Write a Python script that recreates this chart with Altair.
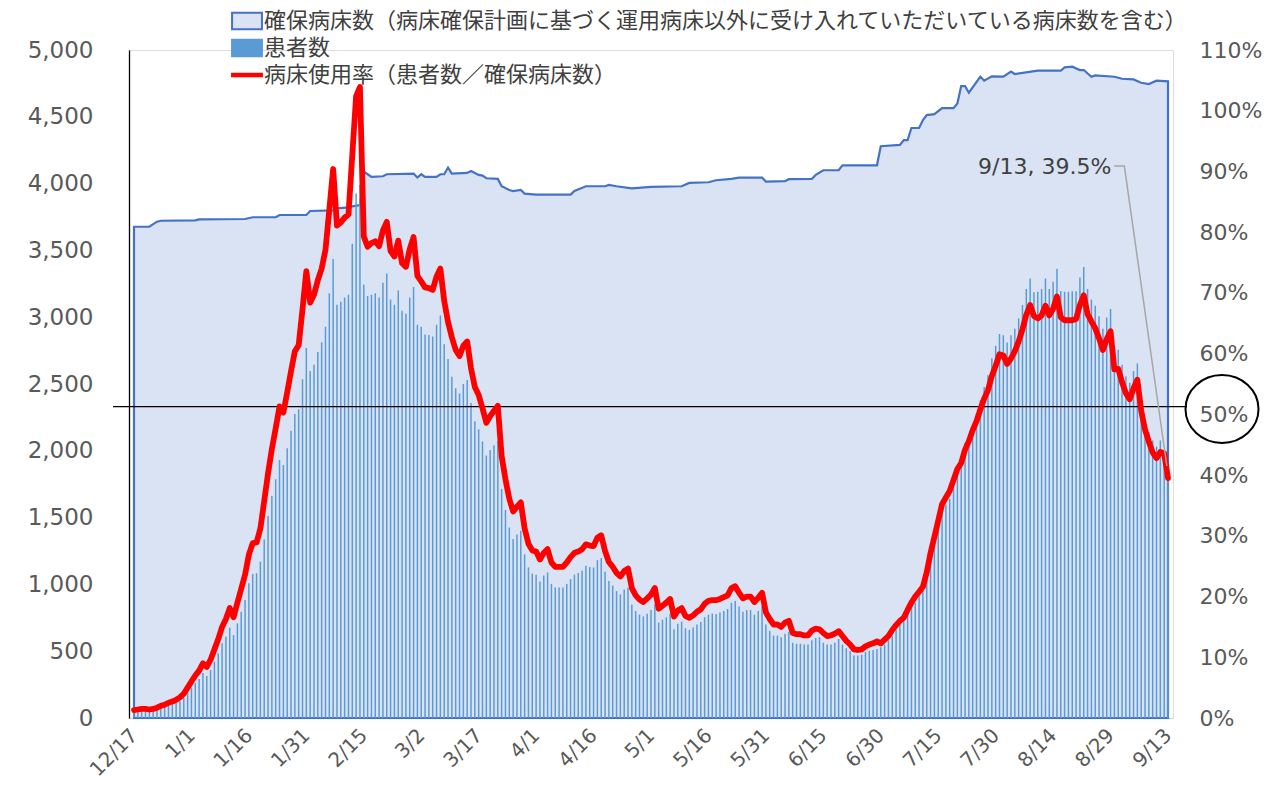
import json
import pandas as pd
import altair as alt

# ---------------- data ----------------
TICK_LABELS = ["12/17", "1/1", "1/16", "1/31", "2/15", "3/2", "3/17", "4/1", "4/16",
               "5/1", "5/16", "5/31", "6/15", "6/30", "7/15", "7/30", "8/14", "8/29", "9/13"]

SERIES = [
    "確保病床数（病床確保計画に基づく運用病床以外に受け入れていただいている病床数を含む）",
    "患者数",
    "病床使用率（患者数／確保病床数）",
]

# patients per day, 12/17 .. 9/13
PATIENTS = [
    48, 52, 55, 55, 52, 56, 62, 74, 82, 92,
    102, 112, 128, 150, 187, 225, 262, 292, 337, 314,
    359, 421, 484, 559, 609, 676, 621, 709, 796, 883,
    1008, 1078, 1083, 1170, 1337, 1512, 1662, 1787, 1931, 1894,
    2019, 2151, 2275, 2311, 2535, 2770, 2597, 2645, 2739, 2812,
    2928, 3179, 3436, 3093, 3116, 3147, 3168, 3549, 3926, 3989,
    3243, 3158, 3168, 3179, 3147, 3258, 3327, 3132, 3093, 3200,
    3049, 3025, 3147, 3226, 2943, 2928, 2871, 2866, 2855, 2943,
    3013, 2797, 2687, 2555, 2468, 2428, 2500, 2530, 2357, 2222,
    2161, 2069, 1965, 2006, 2041, 2074, 1714, 1557, 1426, 1340,
    1374, 1402, 1225, 1127, 1081, 1073, 1021, 1067, 1089, 1004,
    977, 977, 977, 1004, 1040, 1073, 1086, 1102, 1140, 1130,
    1127, 1181, 1197, 1094, 1026, 991, 950, 925, 962, 977,
    850, 801, 774, 760, 781, 808, 850, 714, 735, 754,
    781, 664, 705, 721, 672, 659, 677, 700, 719, 754,
    773, 781, 779, 790, 801, 816, 863, 876, 835, 795,
    808, 808, 773, 801, 835, 700, 653, 617, 617, 604,
    631, 645, 563, 555, 555, 550, 550, 582, 599, 604,
    563, 550, 550, 563, 591, 550, 522, 501, 468, 468,
    474, 495, 504, 509, 517, 530, 550, 582, 617, 659,
    707, 741, 781, 835, 863, 916, 963, 1121, 1257, 1352,
    1448, 1557, 1598, 1639, 1720, 1815, 1883, 2060, 2101, 2161,
    2278, 2379, 2477, 2566, 2692, 2786, 2874, 2865, 2811, 2865,
    2913, 2991, 3092, 3211, 3290, 3186, 3190, 3211, 3290, 3211,
    3265, 3362, 3196, 3190, 3190, 3195, 3195, 3297, 3375, 3211,
    3132, 3086, 3007, 2913, 2998, 3061, 2754, 2757, 2645, 2557,
    2510, 2597, 2654, 2408, 2220, 2141, 2078, 2030, 2078, 2000, 1880,
]

# bed-occupancy rate (%) per day
RATE = [
    1.3, 1.4, 1.5, 1.5, 1.4, 1.5, 1.7, 2.0, 2.2, 2.5,
    2.7, 3.0, 3.4, 4.0, 5.0, 6.0, 7.0, 7.8, 9.0, 8.4,
    9.6, 11.3, 13.0, 15.0, 16.3, 18.1, 16.6, 19.0, 21.3, 23.6,
    26.9, 28.8, 28.9, 31.2, 35.7, 40.3, 44.3, 47.7, 51.3, 50.3,
    53.6, 57.1, 60.4, 61.4, 67.3, 73.6, 68.4, 69.7, 72.1, 74.0,
    77.1, 83.7, 90.4, 81.1, 81.6, 82.4, 82.9, 92.7, 102.4, 103.9,
    79.3, 77.6, 78.2, 78.5, 77.7, 80.3, 81.7, 76.9, 76.0, 78.6,
    74.9, 74.3, 77.2, 79.2, 72.8, 71.9, 70.9, 70.8, 70.5, 72.7,
    74.0, 68.7, 65.2, 62.7, 60.6, 59.6, 61.3, 62.0, 57.6, 54.5,
    53.2, 51.0, 48.6, 49.7, 50.6, 51.4, 43.1, 39.3, 36.1, 34.0,
    34.8, 35.5, 31.2, 28.7, 27.6, 27.4, 26.1, 27.2, 27.8, 25.6,
    24.9, 24.9, 24.9, 25.6, 26.5, 27.2, 27.4, 27.8, 28.6, 28.4,
    28.3, 29.7, 30.1, 27.5, 25.7, 24.9, 23.9, 23.3, 24.2, 24.6,
    21.4, 20.2, 19.5, 19.1, 19.7, 20.3, 21.4, 18.0, 18.5, 19.0,
    19.6, 16.7, 17.7, 18.1, 16.8, 16.5, 16.9, 17.5, 17.9, 18.8,
    19.3, 19.4, 19.4, 19.6, 19.9, 20.2, 21.4, 21.7, 20.6, 19.7,
    20.0, 20.0, 19.1, 19.8, 20.6, 17.4, 16.3, 15.4, 15.4, 15.0,
    15.7, 16.0, 14.0, 13.8, 13.8, 13.6, 13.6, 14.4, 14.7, 14.6,
    14.0, 13.5, 13.6, 13.9, 14.3, 13.5, 12.7, 12.1, 11.3, 11.2,
    11.3, 11.8, 12.1, 12.3, 12.6, 12.3, 12.9, 13.5, 14.5, 15.3,
    16.0, 16.5, 17.8, 19.0, 20.0, 20.8, 21.6, 24.0, 27.2, 29.8,
    32.5, 35.2, 36.3, 37.4, 39.2, 41.0, 42.0, 44.2, 45.6, 47.4,
    48.9, 50.8, 52.6, 54.0, 56.3, 58.0, 59.9, 59.7, 58.3, 59.2,
    60.4, 62.0, 64.0, 66.4, 68.0, 66.2, 65.8, 66.3, 67.9, 66.3,
    67.4, 69.4, 66.0, 65.5, 65.5, 65.5, 65.7, 68.0, 69.6, 66.5,
    65.3, 64.2, 62.5, 60.6, 62.4, 63.7, 57.4, 57.5, 55.3, 53.5,
    52.5, 54.3, 55.7, 50.6, 47.5, 45.5, 43.7, 42.8, 43.8, 43.6, 39.5,
]

# secured beds: days (from 12/17) where the outline changes, and the values there
BED_DAYS = [0, 4, 6, 7, 16, 17, 29, 31, 37, 38, 45, 46, 52, 53, 56, 57, 59, 60, 61, 62,
            65, 66, 73, 74, 75, 76, 79, 80, 81, 82, 83, 87, 88, 90, 91, 92, 95, 96, 98, 99,
            101, 102, 105, 114, 115, 118, 123, 124, 126, 130, 135, 143, 145, 150, 152, 156, 158, 164, 165, 170,
            171, 177, 178, 180, 184, 185, 194, 195, 200, 201, 202, 203, 205, 206, 207, 209, 211, 214, 215, 216,
            217, 218, 221, 222, 224, 227, 229, 230, 236, 242, 243, 245, 247, 248, 250, 251, 256, 258, 261, 263,
            265, 267, 270]
BED_VALUES = [3677, 3677, 3715, 3722, 3725, 3732, 3735, 3748, 3748, 3765, 3765, 3795, 3800, 3815, 3822, 3830, 3840, 4090, 4070, 4050,
              4055, 4070, 4075, 4045, 4070, 4050, 4050, 4070, 4070, 4120, 4075, 4080, 4095, 4065, 4060, 4040, 4035, 3980, 3952, 3944,
              3952, 3925, 3918, 3918, 3945, 3980, 3980, 3990, 3980, 3965, 3975, 3980, 4005, 4010, 4025, 4035, 4045, 4045, 4015, 4018,
              4033, 4035, 4065, 4100, 4100, 4137, 4137, 4280, 4290, 4326, 4326, 4416, 4416, 4476, 4513, 4520, 4565, 4565, 4600, 4730,
              4730, 4680, 4800, 4770, 4803, 4800, 4838, 4820, 4845, 4845, 4870, 4875, 4850, 4850, 4800, 4810, 4800, 4785, 4780, 4755,
              4745, 4770, 4765]

LINE_LEVEL = 2330          # hand-drawn horizontal guide (about the 50% level)
ANNOT_POS = (255.2, 90.7)  # annotation text position (day, %)
LEADER_DAYS = [255.9, 258.6, 269.7]
LEADER_RATES = [90.9, 90.9, 41.5]

assert len(PATIENTS) == len(RATE) == 271
assert len(BED_DAYS) == len(BED_VALUES)

daily = pd.DataFrame({"day": list(range(len(PATIENTS))), "patients": PATIENTS, "rate": RATE})
beds = pd.DataFrame({"day": BED_DAYS, "beds": BED_VALUES})

W, H = 1044, 668
FONT = "DejaVu Sans"
JP = "Noto Sans CJK JP"
GREY = "#595959"

xscale = alt.Scale(domain=[0, 270], nice=False, zero=False)
tick_vals = [i * 15 for i in range(len(TICK_LABELS))]
x_axis = alt.Axis(values=tick_vals,
                  labelExpr=json.dumps(TICK_LABELS) + "[round(datum.value/15)]",
                  labelAngle=-45, labelAlign="right", labelBaseline="middle",
                  labelFontSize=20, labelFont=FONT, labelColor=GREY, labelPadding=14,
                  ticks=False, domainColor="#D0D7E5", domainWidth=1.5, grid=False, title=None)

left_scale = alt.Scale(domain=[0, 5000], nice=False)
left_axis = alt.Axis(values=list(range(0, 5001, 500)), format=",d", labelFontSize=23, labelFont=FONT,
                     labelColor=GREY, labelPadding=36, ticks=False, domainColor="#000000",
                     domainWidth=1.3, grid=False, title=None)

right_scale = alt.Scale(domain=[0, 110], nice=False)
right_axis = alt.Axis(orient="right", values=list(range(0, 111, 10)), labelExpr="datum.value + '%'",
                      labelFontSize=22, labelFont=FONT, labelColor=GREY, labelPadding=26,
                      ticks=False, domain=False, grid=False, title=None)

X = alt.X("day:Q", scale=xscale, axis=x_axis)

area = alt.Chart(beds).mark_area(fill="#DAE3F3", stroke="#4472C4", strokeWidth=2.2).encode(
    x=X, y=alt.Y("beds:Q", scale=left_scale, axis=left_axis))

bars = alt.Chart(daily).mark_bar(size=1.5, color="#5B9BD5").encode(
    x=X, y=alt.Y("patients:Q", scale=left_scale, axis=left_axis))

rule = alt.Chart(pd.DataFrame({"level": [LINE_LEVEL]})).mark_rule(color="black", strokeWidth=1.3).encode(
    y=alt.Y("level:Q", scale=left_scale, axis=left_axis), x=alt.value(-16), x2=alt.value(W + 14))

left = alt.layer(area, bars, rule)

line = alt.Chart(daily).mark_line(color="#FF0000", strokeWidth=5.8, strokeJoin="round", strokeCap="round").encode(
    x=X, y=alt.Y("rate:Q", scale=right_scale, axis=right_axis))

ann_df = pd.DataFrame({"day": [ANNOT_POS[0]], "rate": [ANNOT_POS[1]],
                       "label": [f"{TICK_LABELS[-1]}, {RATE[-1]}%"]})
ann_text = alt.Chart(ann_df).mark_text(align="right", baseline="middle", fontSize=22, font=FONT,
                                       color="#404040").encode(
    x=X, y=alt.Y("rate:Q", scale=right_scale, axis=right_axis), text="label:N")

leader_df = pd.DataFrame({"day": LEADER_DAYS, "rate": LEADER_RATES, "o": [0, 1, 2]})
leader = alt.Chart(leader_df).mark_line(color="#A6A6A6", strokeWidth=1.5).encode(
    x=X, y=alt.Y("rate:Q", scale=right_scale, axis=right_axis), order="o:Q")

ELLIPSE = "M-1,0A1,0.93 0 1,1 1,0A1,0.93 0 1,1 -1,0Z"
circle = alt.Chart(pd.DataFrame({"k": [0]})).mark_point(
    shape=ELLIPSE, size=5329, stroke="black", strokeWidth=2, filled=False, opacity=1).encode(
    x=alt.value(W + 49), y=alt.value(359))

RECT = "M-1.15,-0.63H1.15V0.63H-1.15Z"
BAR = "M-1.15,-0.1H1.15V0.1H-1.15Z"
leg = alt.Legend(title=None, orient="none", legendX=104, legendY=-43, symbolSize=676,
                 symbolStrokeWidth=2, symbolOpacity=1, labelFontSize=22, labelFont=JP,
                 labelColor="#404040", labelLimit=2000, labelOffset=3, rowPadding=0)
legend_helper = alt.Chart(pd.DataFrame({"series": SERIES})).mark_point(strokeWidth=2, opacity=1).encode(
    x=alt.value(-3000), y=alt.value(-3000),
    fill=alt.Fill("series:N", scale=alt.Scale(domain=SERIES, range=["#DAE3F3", "#5B9BD5", "#FF0000"]), legend=leg),
    stroke=alt.Stroke("series:N", scale=alt.Scale(domain=SERIES, range=["#4472C4", "#5B9BD5", "#FF0000"]), legend=leg),
    shape=alt.Shape("series:N", scale=alt.Scale(domain=SERIES, range=[RECT, RECT, BAR]), legend=leg),
)

right = alt.layer(line, leader, ann_text, circle, legend_helper)

chart = alt.layer(left, right).resolve_scale(y="independent").properties(
    width=W, height=H,
    autosize=alt.AutoSizeParams(type="none"),
    padding={"left": 121, "top": 42, "right": 100, "bottom": 65},
    background="white",
).configure_view(stroke=None).configure(font=FONT)

chart.save("out.html", embed_options={"renderer": "svg", "actions": False})
